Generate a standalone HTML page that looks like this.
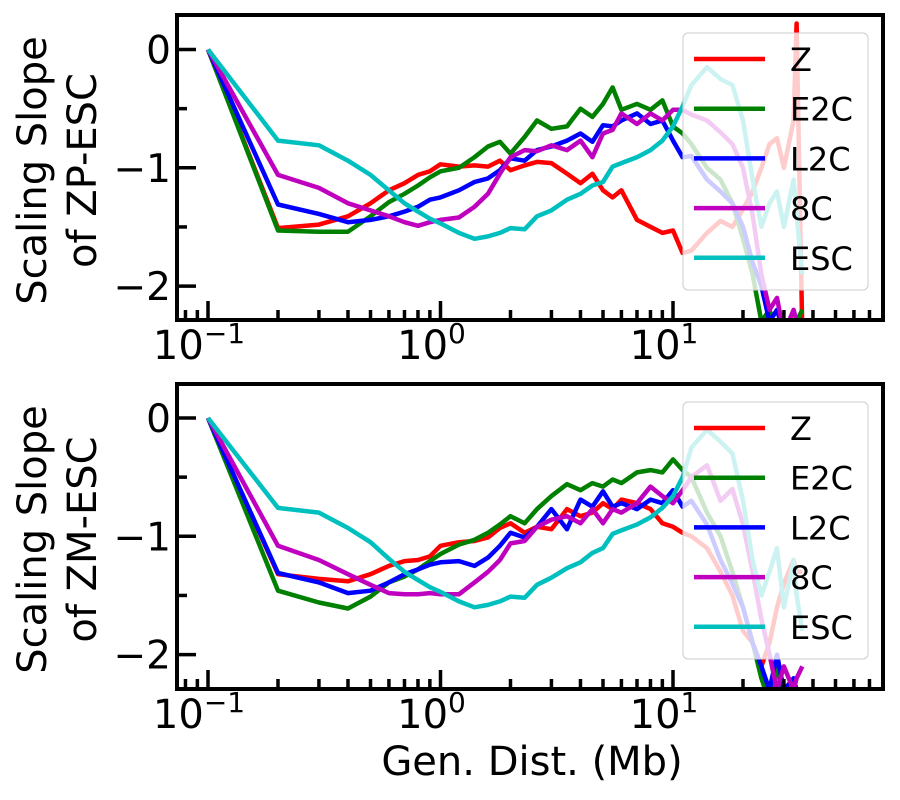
<!DOCTYPE html>
<html><head><meta charset="utf-8"><style>
html,body{margin:0;padding:0;background:#fff;}
svg{display:block;font-family:"DejaVu Sans","Liberation Sans",sans-serif;}
</style></head><body>
<svg id="chart" width="900" height="800" viewBox="0 0 900 800" xmlns="http://www.w3.org/2000/svg"></svg>
<script>
const xs = [0.1,0.2,0.3,0.4,0.5,0.6,0.7,0.8,0.9,1.0,1.2,1.4,1.6,1.8,2.0,2.3,2.6,3,3.5,4,4.5,5,5.5,6,7,8,9,10,11,12,14,16,18,20,22,24,26,28,30,33,34,36];
const seriesNames = ["Z","E2C","L2C","8C","ESC"];
const seriesColors = ["#ff0000","#008000","#0000ff","#bf00bf","#00bfbf"];
// top panel (ZP-ESC)
const topZ   = [0,-1.51,-1.48,-1.41,-1.30,-1.19,-1.13,-1.06,-1.03,-0.97,-0.99,-0.98,-0.99,-0.94,-1.02,-0.98,-0.95,-0.96,-1.05,-1.13,-1.05,-1.19,-1.25,-1.19,-1.44,-1.50,-1.55,-1.53,-1.72,-1.70,-1.55,-1.45,-1.50,-1.35,-1.20,-1.00,-0.80,-0.75,-1.00,-0.60,0.22,-2.4];
const topE2C = [0,-1.53,-1.54,-1.54,-1.41,-1.29,-1.22,-1.15,-1.08,-1.03,-1.00,-0.91,-0.82,-0.78,-0.88,-0.74,-0.60,-0.67,-0.65,-0.50,-0.57,-0.46,-0.32,-0.51,-0.46,-0.51,-0.43,-0.65,-0.71,-0.80,-1.00,-1.10,-1.30,-1.60,-1.90,-2.30,-2.20,-2.40,-2.30,-2.40,-2.30,-2.20];
const topL2C = [0,-1.31,-1.39,-1.46,-1.44,-1.41,-1.37,-1.33,-1.27,-1.25,-1.19,-1.12,-1.09,-1.02,-0.92,-0.94,-0.85,-0.82,-0.77,-0.71,-0.78,-0.64,-0.65,-0.60,-0.54,-0.63,-0.60,-0.77,-0.91,-0.90,-1.10,-1.20,-1.30,-1.50,-1.80,-2.00,-2.30,-2.20,-2.40,-2.30,-2.35,-2.40];
const top8C  = [0,-1.06,-1.17,-1.30,-1.36,-1.41,-1.46,-1.49,-1.46,-1.44,-1.42,-1.33,-1.22,-1.05,-0.91,-0.85,-0.86,-0.81,-0.85,-0.77,-0.91,-0.71,-0.68,-0.54,-0.63,-0.54,-0.60,-0.51,-0.51,-0.55,-0.60,-0.70,-0.80,-1.00,-1.40,-1.90,-2.20,-2.10,-2.40,-2.20,-2.30,-2.40];
const topESC = [0,-0.77,-0.81,-0.94,-1.06,-1.19,-1.30,-1.37,-1.43,-1.47,-1.55,-1.60,-1.58,-1.55,-1.51,-1.52,-1.41,-1.36,-1.27,-1.22,-1.15,-1.12,-0.99,-0.96,-0.91,-0.85,-0.77,-0.65,-0.48,-0.30,-0.15,-0.25,-0.30,-0.60,-1.10,-1.50,-1.30,-1.20,-1.50,-1.10,-1.40,-1.90];
// bottom panel (ZM-ESC)
const botZ   = [0,-1.32,-1.36,-1.38,-1.32,-1.25,-1.21,-1.20,-1.17,-1.08,-1.05,-1.04,-1.01,-0.93,-0.89,-0.97,-0.92,-0.94,-0.77,-0.83,-0.80,-0.72,-0.77,-0.69,-0.72,-0.77,-0.89,-0.92,-0.97,-1.00,-1.10,-1.30,-1.50,-1.80,-1.90,-2.10,-1.90,-1.60,-1.40,-1.20,-1.30,-1.30];
const botE2C = [0,-1.46,-1.56,-1.61,-1.51,-1.39,-1.34,-1.28,-1.21,-1.15,-1.07,-1.03,-0.97,-0.90,-0.83,-0.89,-0.77,-0.66,-0.56,-0.61,-0.55,-0.58,-0.52,-0.55,-0.46,-0.44,-0.46,-0.35,-0.44,-0.50,-0.80,-1.00,-1.30,-1.60,-1.90,-2.20,-2.40,-2.10,-2.40,-2.30,-2.40,-2.30];
const botL2C = [0,-1.31,-1.39,-1.48,-1.46,-1.39,-1.32,-1.28,-1.24,-1.22,-1.21,-1.25,-1.18,-1.08,-0.97,-1.01,-0.92,-0.77,-0.94,-0.69,-0.75,-0.62,-0.75,-0.72,-0.77,-0.69,-0.72,-0.61,-0.75,-0.70,-0.90,-1.20,-1.40,-1.60,-1.90,-2.10,-2.30,-2.00,-2.30,-2.20,-2.30,-2.40];
const bot8C  = [0,-1.08,-1.20,-1.32,-1.41,-1.48,-1.49,-1.49,-1.48,-1.49,-1.49,-1.39,-1.30,-1.20,-1.06,-1.04,-0.92,-0.86,-0.83,-0.89,-0.77,-0.89,-0.77,-0.80,-0.72,-0.58,-0.66,-0.72,-0.61,-0.50,-0.40,-0.70,-0.60,-0.90,-1.30,-1.70,-2.00,-2.30,-2.10,-2.30,-2.20,-2.10];
const botESC = [0,-0.76,-0.80,-0.93,-1.05,-1.19,-1.30,-1.37,-1.43,-1.47,-1.55,-1.60,-1.58,-1.55,-1.51,-1.52,-1.41,-1.35,-1.27,-1.22,-1.14,-1.10,-0.98,-0.95,-0.90,-0.84,-0.76,-0.66,-0.50,-0.25,-0.10,-0.20,-0.30,-0.70,-1.20,-1.50,-1.30,-1.10,-1.60,-1.20,-1.50,-1.80];
const topSeries = [topZ, topE2C, topL2C, top8C, topESC];
const botSeries = [botZ, botE2C, botL2C, bot8C, botESC];
const yTicks = [0,-1,-2];
const yMinor = [-0.5,-1.5];
const xDecades = [-1,0,1];
const ylabelTop = ["Scaling Slope","of ZP-ESC"];
const ylabelBot = ["Scaling Slope","of ZM-ESC"];

const NS="http://www.w3.org/2000/svg";
const svg=document.getElementById('chart');
function mk(tag,attrs,parent){const e=document.createElementNS(NS,tag);for(const k in attrs)e.setAttribute(k,attrs[k]);(parent||svg).appendChild(e);return e;}

const L=177,R=883, X0=208, DEC=232.5;
function xScale(v){return X0+(Math.log10(v)+1)*DEC;}

function panel(idx,top,bottom,zeroY,series,ylab){
  const U=118.3;
  const yScale=v=>zeroY-v*U;
  const g=mk('g',{});
  
  
  const cid='clip'+idx;
  const cp=mk('clipPath',{id:cid},g);
  mk('rect',{x:L,y:top,width:R-L,height:bottom-top},cp);
  const lines=mk('g',{'clip-path':'url(#'+cid+')'},g);
  series.forEach((s,i)=>{
    const pts=s.map((v,j)=>xScale(xs[j]).toFixed(1)+','+yScale(v).toFixed(1)).join(' ');
    const pl=mk('polyline',{points:pts,fill:'none',stroke:seriesColors[i],'stroke-width':4.5,'stroke-linejoin':'round'},lines);
    
    
  });
  // legend
  const lt=top+18, lb=top+275;
  const leg=mk('g',{},g);
  
  
  mk('rect',{x:683,y:lt,width:185,height:lb-lt,rx:5,fill:'#fff','fill-opacity':0.8,stroke:'#ccc','stroke-width':1},leg);
  seriesNames.forEach((n,i)=>{
    const yy=lt+26+i*49.7;
    const e=mk('g',{},leg);
    
    
    mk('line',{x1:694,x2:765,y1:yy,y2:yy,stroke:seriesColors[i],'stroke-width':4.5},e);
    const t=mk('text',{x:790,y:yy+12,'font-size':32,fill:'#000'},e);t.textContent=n;
  });
  // ticks
  const ax=mk('g',{stroke:'#000','stroke-width':3.5},g);
  yTicks.forEach(v=>{mk('line',{x1:L,x2:L+19,y1:yScale(v),y2:yScale(v)},ax);});
  yMinor.forEach(v=>{mk('line',{x1:L,x2:L+10,y1:yScale(v),y2:yScale(v)},ax);});
  for(let d=-2;d<=1;d++){for(let m=1;m<=9;m++){const v=m*Math.pow(10,d);const x=xScale(v);if(x<L+2||x>R-2)continue;
    if(m===1)mk('line',{x1:x,x2:x,y1:bottom,y2:bottom-19},ax);else mk('line',{x1:x,x2:x,y1:bottom,y2:bottom-10},ax);}}
  yTicks.forEach(v=>{const t=mk('text',{x:171,y:yScale(v)+14,'font-size':39,'text-anchor':'end',fill:'#000'},g);t.textContent=(v<0?'\u2212':'')+Math.abs(v);
    });
  xDecades.forEach(d=>{const t=mk('text',{x:xScale(Math.pow(10,d))-9,y:bottom+39,'font-size':40,'text-anchor':'middle',fill:'#000'},g);
    
    t.appendChild(document.createTextNode('10'));
    const sp=mk('tspan',{dy:-16,'font-size':28},t);sp.textContent=(d<0?'\u2212':'')+Math.abs(d);});
  mk('rect',{x:L,y:top,width:R-L,height:bottom-top,fill:'none',stroke:'#000','stroke-width':4},g);
  const cy=(top+bottom)/2+3;
  ylab.forEach((s,i)=>{const x=i===0?46:96;const t=mk('text',{x:x,y:cy,'font-size':40,'text-anchor':'middle',fill:'#000',transform:'rotate(-90 '+x+' '+cy+')'},g);
    t.textContent=s;});
}
panel(0,15,320,49.5,topSeries,ylabelTop);
panel(1,384,689,418,botSeries,ylabelBot);
const xl=mk('text',{x:532,y:775,'font-size':40,'text-anchor':'middle',fill:'#000'});
xl.textContent='Gen. Dist. (Mb)';


</script>
</body></html>
